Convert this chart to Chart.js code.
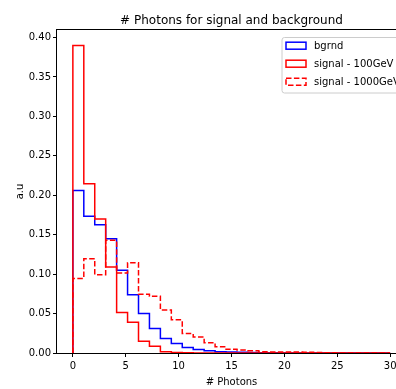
<!DOCTYPE html>
<html>
<head>
<meta charset="utf-8">
<script src="https://cdn.jsdelivr.net/npm/chart.js@4/dist/chart.umd.min.js"></script>
<style>
  html, body { margin: 0; padding: 0; background: #fff; overflow: hidden; width: 396px; height: 389px; }
  #wrap { position: relative; width: 396px; height: 389px; overflow: hidden; }
  canvas { display: block; }
</style>
</head>
<body>
<div id="wrap"><canvas id="c" width="412" height="389"></canvas></div>
<script>
// Histogram binning: 29 equal bins between 0 and 30 photons
const binRange = [0, 30];
const binCount = 29;

// Normalised bin contents (a.u), one value per bin
const bgrnd = [0.206, 0.1735, 0.1625, 0.145, 0.105, 0.074, 0.050, 0.031, 0.0185, 0.012,
               0.007, 0.0045, 0.003, 0.0016, 0.0012, 0.0009, 0.0006, 0.0004, 0.0002, 0.0001,
               0, 0, 0, 0, 0, 0, 0, 0, 0];
const signal100 = [0.390, 0.2145, 0.170, 0.109, 0.0515, 0.039, 0.0148, 0.0085, 0.0015, 0.0006,
                   0.0002, 0, 0, 0, 0, 0, 0, 0, 0, 0,
                   0, 0, 0, 0, 0, 0, 0, 0, 0];
const signal1000 = [0.0945, 0.1195, 0.0993, 0.143, 0.1015, 0.1145, 0.0745, 0.072, 0.0545, 0.042,
                    0.0248, 0.0203, 0.013, 0.008, 0.0046, 0.0038, 0.003, 0.0015, 0.0014, 0.0013,
                    0.0012, 0.001, 0.0006, 0.0002, 0, 0, 0, 0, 0];

const seriesNames = ['bgrnd', 'signal - 100GeV', 'signal - 1000GeV'];
const xTicks = [0, 5, 10, 15, 20, 25, 30];
const yTicks = [0, 0.05, 0.10, 0.15, 0.20, 0.25, 0.30, 0.35, 0.40];

const titleText = '# Photons for signal and background';
const xLabel = '# Photons';
const yLabel = 'a.u';

const FONT = 'DejaVu Sans';
Chart.defaults.font.family = FONT;
Chart.defaults.color = '#000';

// Outline of a step histogram: up at the first edge, across each bin, down at the last edge
function stepPoints(vals) {
  const w = (binRange[1] - binRange[0]) / binCount;
  const pts = [{ x: binRange[0], y: 0 }];
  vals.forEach((v, i) => {
    pts.push({ x: binRange[0] + i * w, y: v });
    pts.push({ x: binRange[0] + (i + 1) * w, y: v });
  });
  pts.push({ x: binRange[1], y: 0 });
  return pts;
}

const styles = [
  { color: '#0000ff', dash: [] },
  { color: '#ff0000', dash: [] },
  { color: '#ff0000', dash: [5.5, 2.4] }
];

// Title, axis labels, frame and legend
const decor = {
  id: 'decor',
  afterDatasetsDraw(chart) {
    const { ctx, chartArea: a } = chart;
    ctx.save();
    ctx.strokeStyle = '#000';
    ctx.lineWidth = 1;
    ctx.strokeRect(Math.round(a.left) - 0.5, Math.round(a.top) - 0.5,
                   Math.round(a.right - a.left) + 1, Math.round(a.bottom - a.top) + 1);
    ctx.restore();
  },
  afterDraw(chart) {
    const { ctx, chartArea: a } = chart;
    const cx = (a.left + a.right) / 2;
    const cy = (a.top + a.bottom) / 2;
    ctx.save();
    ctx.fillStyle = '#000';
    ctx.textAlign = 'center';
    ctx.textBaseline = 'alphabetic';
    ctx.font = '12px "' + FONT + '"';
    ctx.fillText(titleText, cx, a.top - 6.5);

    ctx.font = '10px "' + FONT + '"';
    ctx.fillText(xLabel, cx, a.bottom + 32);

    ctx.save();
    ctx.translate(22.5, cy);
    ctx.rotate(-Math.PI / 2);
    ctx.fillText(yLabel, 0, 0);
    ctx.restore();

    // legend box
    const bx = 282, by = 37.5, bw = 119, bh = 55.5, r = 2.5;
    ctx.beginPath();
    ctx.moveTo(bx + r, by);
    ctx.lineTo(bx + bw - r, by);
    ctx.arcTo(bx + bw, by, bx + bw, by + r, r);
    ctx.lineTo(bx + bw, by + bh - r);
    ctx.arcTo(bx + bw, by + bh, bx + bw - r, by + bh, r);
    ctx.lineTo(bx + r, by + bh);
    ctx.arcTo(bx, by + bh, bx, by + bh - r, r);
    ctx.lineTo(bx, by + r);
    ctx.arcTo(bx, by, bx + r, by, r);
    ctx.closePath();
    ctx.fillStyle = 'rgba(255,255,255,0.8)';
    ctx.fill();
    ctx.strokeStyle = '#cccccc';
    ctx.lineWidth = 1;
    ctx.stroke();

    ctx.textAlign = 'left';
    ctx.textBaseline = 'middle';
    seriesNames.forEach((name, i) => {
      const rowY = 45.7 + i * 18;
      ctx.strokeStyle = styles[i].color;
      ctx.lineWidth = 1.5;
      ctx.setLineDash(styles[i].dash);
      ctx.strokeRect(286, rowY - 3.5, 20, 7);
      ctx.setLineDash([]);
      ctx.fillStyle = '#000';
      ctx.fillText(name, 314, rowY + 0.5);
    });
    ctx.restore();
  }
};

const seriesValues = [bgrnd, signal100, signal1000];

new Chart(document.getElementById('c'), {
  type: 'line',
  data: {
    datasets: seriesValues.map((vals, i) => ({
      label: seriesNames[i],
      data: stepPoints(vals),
      borderColor: styles[i].color,
      borderDash: styles[i].dash,
      borderWidth: 1.5,
      borderJoinStyle: 'miter',
      pointRadius: 0,
      fill: false,
      tension: 0,
      order: 3 - i
    }))
  },
  options: {
    responsive: false,
    animation: false,
    events: [],
    layout: { padding: { top: 30, right: 6, left: 0, bottom: 0 } },
    plugins: { legend: { display: false }, title: { display: false }, tooltip: { enabled: false } },
    scales: {
      x: {
        type: 'linear',
        min: -1.5,
        max: 31.5,
        afterBuildTicks: s => { s.ticks = xTicks.map(v => ({ value: v })); },
        afterFit: s => { s.height = 36; },
        border: { display: false },
        grid: { display: true, drawOnChartArea: false, drawTicks: true, tickLength: 4, color: '#000', lineWidth: 1 },
        ticks: { font: { size: 10 }, color: '#000', padding: 3, maxRotation: 0, autoSkip: false,
                 callback: v => String(v) }
      },
      y: {
        type: 'linear',
        min: 0,
        max: 0.4095,
        afterBuildTicks: s => { s.ticks = yTicks.map(v => ({ value: v })); },
        afterFit: s => { s.width = 57; },
        border: { display: false },
        grid: { display: true, drawOnChartArea: false, drawTicks: true, tickLength: 4, color: '#000', lineWidth: 1 },
        ticks: { font: { size: 10 }, color: '#000', padding: 2, autoSkip: false,
                 callback: v => Number(v).toFixed(2) }
      }
    }
  },
  plugins: [decor]
});
</script>
</body>
</html>
